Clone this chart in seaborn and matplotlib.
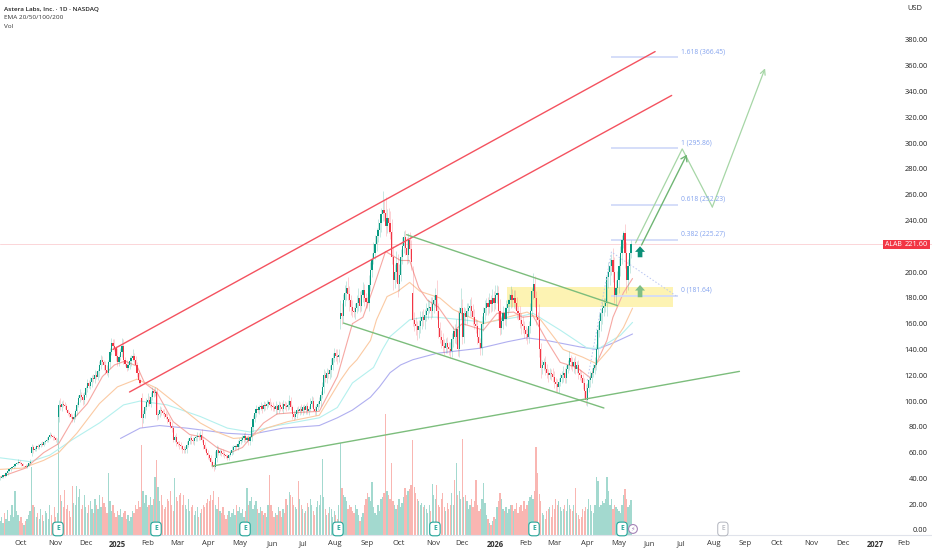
import numpy as np
import pandas as pd
import matplotlib.pyplot as plt
import seaborn as sns

# -----------------------------
# Chart values
# -----------------------------

closes = [
    40, 41, 43, 42, 44, 46, 47, 48, 49, 50,
    51, 52, 53, 52, 51, 50, 50, 49, 50, 52,
    53, 64, 62, 63, 65, 64, 66, 67, 66, 68,
    69, 70, 72, 74, 73, 72, 71, 70, 70, 97,
    95, 98, 97, 96, 93, 91, 90, 88, 86, 88,
    92, 97, 102, 105, 103, 101, 105, 110, 114, 112,
    115, 118, 117, 120, 119, 123, 128, 132, 130, 128,
    124, 122, 130, 138, 145, 143, 141, 135, 130, 134,
    138, 143, 132, 129, 126, 128, 131, 133, 135, 132,
    128, 122, 116, 114, 87, 90, 95, 99, 101, 98,
    103, 108, 106, 107, 89, 90, 93, 92, 91, 90,
    88, 86, 84, 81, 79, 70, 72, 68, 67, 66,
    65, 63, 62, 63, 66, 69, 71, 70, 69, 71,
    72, 73, 72, 74, 70, 66, 63, 60, 58, 56,
    53, 50, 49, 56, 62, 60, 61, 60, 59, 58,
    57, 56, 58, 60, 62, 64, 65, 64, 67, 69,
    70, 71, 73, 70, 71, 69, 72, 80, 86, 91,
    94, 93, 95, 96, 94, 97, 96, 98, 99, 97,
    96, 95, 94, 96, 93, 97, 95, 94, 98, 96,
    95, 97, 100, 95, 90, 88, 90, 93, 92, 94,
    92, 95, 93, 96, 92, 94, 98, 100, 94, 92,
    95, 98, 100, 105, 111, 120, 118, 122, 121, 124,
    128, 133, 137, 135, 134, 136, 168, 166, 178, 184,
    188, 183, 178, 173, 170, 169, 172, 176, 180, 174,
    182, 186, 180, 177, 176, 190, 202, 210, 215, 222,
    228, 233, 238, 245, 248, 246, 236, 242, 238, 231,
    212, 194, 200, 207, 191, 198, 212, 220, 227, 219,
    213, 225, 218, 208, 163, 160, 158, 155, 158, 162,
    165, 163, 167, 170, 172, 173, 170, 175, 178, 182,
    170, 157, 150, 147, 143, 141, 145, 142, 140, 139,
    148, 154, 150, 156, 140, 168, 172, 150, 168, 165,
    170, 172, 174, 170, 165, 160, 158, 150, 145, 141,
    160, 168, 172, 176, 173, 178, 175, 180, 176, 182,
    184, 170, 157, 162, 168, 164, 172, 175, 178, 182,
    178, 180, 176, 170, 168, 163, 160, 158, 155, 152,
    150, 158, 170, 185, 191, 180, 165, 163, 140, 126,
    128, 130, 125, 122, 120, 122, 121, 119, 115, 113,
    111, 115, 118, 120, 122, 118, 125, 128, 133, 130,
    127, 130, 125, 128, 122, 120, 118, 114, 108, 101,
    110, 116, 118, 122, 126, 128, 140, 155, 162, 168,
    172, 174, 176, 196, 200, 205, 209, 200, 182, 188,
    194, 205, 215, 225, 230, 215, 194, 205, 215, 221.6,
]

# opening price differs from the last close only on these gap days
gap_bars = [21, 39, 94, 226, 274]
gap_opens = [60, 88, 102, 164, 184]

upper_wicks = [
    1, 1, 0, 2, 1, 1, 1, 0, 1, 1,
    1, 1, 2, 1, 1, 1, 0, 1, 1, 1,
    2, 3, 2, 1, 1, 2, 1, 1, 2, 1,
    1, 2, 1, 2, 1, 1, 2, 1, 1, 4,
    5, 2, 3, 2, 2, 1, 1, 1, 2, 3,
    2, 2, 3, 4, 2, 3, 2, 2, 3, 2,
    4, 2, 3, 4, 3, 2, 3, 4, 3, 2,
    3, 4, 2, 3, 4, 3, 5, 2, 6, 2,
    3, 6, 5, 2, 3, 2, 4, 3, 5, 2,
    3, 2, 2, 2, 4, 3, 2, 3, 5, 3,
    4, 3, 2, 4, 3, 2, 3, 2, 2, 3,
    2, 3, 2, 2, 3, 2, 2, 3, 1, 2,
    2, 1, 2, 2, 3, 2, 2, 3, 2, 1,
    2, 3, 2, 3, 4, 2, 2, 1, 2, 1,
    2, 1, 3, 5, 4, 3, 2, 2, 3, 2,
    1, 2, 1, 2, 3, 2, 1, 2, 3, 2,
    2, 3, 2, 3, 2, 3, 2, 3, 3, 2,
    3, 2, 2, 3, 2, 3, 2, 3, 2, 3,
    2, 3, 2, 4, 2, 3, 2, 4, 3, 2,
    3, 4, 5, 3, 2, 3, 2, 2, 3, 2,
    4, 2, 3, 2, 3, 2, 4, 4, 3, 2,
    3, 2, 3, 3, 4, 5, 3, 4, 3, 4,
    5, 4, 4, 3, 5, 4, 10, 8, 5, 6,
    5, 8, 6, 4, 5, 3, 4, 6, 8, 5,
    4, 6, 5, 4, 4, 8, 6, 5, 8, 7,
    6, 8, 7, 5, 15, 9, 12, 7, 8, 9,
    10, 8, 6, 9, 7, 8, 6, 7, 5, 6,
    8, 5, 6, 7, 21, 6, 5, 4, 5, 8,
    5, 6, 4, 6, 7, 5, 8, 6, 4, 6,
    12, 6, 4, 5, 6, 5, 4, 5, 4, 6,
    5, 4, 6, 8, 14, 5, 16, 7, 5, 4,
    6, 4, 5, 7, 5, 6, 4, 5, 6, 4,
    6, 5, 6, 4, 5, 6, 4, 7, 5, 8,
    6, 5, 9, 4, 6, 5, 6, 4, 5, 7,
    5, 6, 6, 5, 4, 6, 5, 6, 4, 3,
    5, 4, 6, 3, 8, 6, 5, 4, 12, 5,
    4, 3, 5, 4, 3, 4, 3, 5, 4, 3,
    4, 3, 4, 3, 5, 4, 3, 4, 6, 3,
    4, 3, 5, 3, 4, 3, 4, 3, 4, 5,
    4, 3, 5, 4, 3, 6, 4, 5, 6, 3,
    5, 6, 4, 5, 8, 6, 5, 10, 12, 6,
    7, 6, 5, 4, 2, 7, 8, 5, 4, 3,
]

lower_wicks = [
    1, 0, 1, 1, 0, 1, 1, 1, 0, 1,
    1, 0, 1, 1, 1, 0, 1, 1, 1, 0,
    1, 3, 2, 1, 2, 1, 1, 2, 1, 1,
    1, 1, 2, 1, 1, 2, 1, 2, 3, 4,
    2, 3, 2, 2, 1, 2, 2, 1, 2, 2,
    2, 3, 2, 3, 2, 4, 3, 2, 3, 2,
    3, 4, 2, 3, 2, 3, 4, 3, 2, 4,
    3, 2, 3, 4, 2, 3, 2, 4, 3, 3,
    2, 4, 3, 2, 3, 2, 3, 4, 2, 3,
    4, 3, 3, 2, 7, 4, 3, 2, 3, 2,
    3, 2, 3, 2, 4, 3, 2, 3, 2, 3,
    2, 3, 2, 2, 3, 2, 2, 3, 2, 3,
    2, 3, 2, 2, 3, 2, 2, 3, 2, 3,
    2, 3, 2, 2, 2, 3, 2, 2, 3, 2,
    3, 2, 3, 2, 3, 2, 2, 3, 2, 2,
    1, 2, 2, 1, 2, 3, 2, 1, 2, 3,
    2, 2, 3, 2, 2, 3, 3, 3, 4, 2,
    3, 2, 3, 2, 3, 2, 3, 2, 3, 2,
    3, 3, 2, 4, 3, 2, 3, 2, 3, 2,
    3, 2, 3, 2, 4, 3, 2, 3, 2, 3,
    2, 3, 2, 3, 2, 3, 2, 3, 2, 3,
    3, 2, 3, 4, 3, 5, 3, 4, 3, 4,
    5, 4, 3, 4, 5, 4, 8, 6, 5, 4,
    6, 5, 8, 6, 5, 4, 5, 4, 6, 5,
    4, 5, 6, 5, 4, 6, 5, 6, 4, 5,
    6, 5, 6, 7, 5, 6, 8, 6, 8, 5,
    6, 8, 6, 8, 10, 6, 5, 6, 5, 6,
    7, 6, 8, 6, 5, 6, 7, 8, 6, 5,
    6, 5, 7, 5, 6, 4, 6, 5, 7, 5,
    6, 8, 5, 6, 5, 5, 4, 5, 4, 6,
    5, 6, 5, 6, 5, 6, 4, 6, 5, 6,
    5, 4, 6, 5, 6, 4, 5, 6, 4, 5,
    5, 6, 5, 5, 6, 5, 6, 5, 6, 5,
    6, 7, 6, 5, 6, 5, 6, 5, 5, 6,
    5, 6, 5, 6, 5, 6, 8, 5, 6, 5,
    6, 5, 5, 4, 6, 7, 6, 5, 6, 8,
    5, 4, 5, 4, 5, 3, 5, 4, 5, 6,
    4, 5, 3, 4, 5, 4, 4, 3, 4, 5,
    4, 5, 4, 3, 5, 4, 3, 5, 6, 4,
    5, 3, 5, 4, 3, 5, 4, 6, 5, 8,
    8, 6, 5, 10, 8, 10, 7, 8, 6, 8,
    5, 10, 8, 9, 6, 12, 10, 8, 6, 4,
]

volumes = [
    14, 18, 12, 22, 16, 25, 14, 20, 30, 18,
    44, 24, 20, 14, 18, 12, 10, 14, 16, 20,
    24, 68, 30, 28, 18, 22, 16, 26, 20, 14,
    24, 22, 16, 30, 20, 12, 28, 18, 22, 118,
    40, 34, 28, 45, 26, 30, 24, 18, 49, 32,
    30, 49, 38, 46, 26, 30, 40, 28, 22, 30,
    34, 26, 22, 36, 30, 26, 40, 28, 38, 32,
    28, 22, 62, 34, 24, 30, 22, 18, 24, 20,
    26, 18, 22, 24, 16, 20, 14, 18, 24, 22,
    30, 26, 34, 28, 90, 44, 32, 40, 28, 30,
    38, 30, 36, 58, 75, 48, 34, 40, 30, 26,
    28, 36, 34, 44, 30, 24, 57, 38, 34, 40,
    42, 30, 40, 30, 26, 36, 24, 28, 30, 20,
    24, 28, 18, 22, 26, 30, 28, 32, 36, 34,
    40, 35, 44, 30, 26, 38, 24, 22, 28, 20,
    16, 20, 24, 18, 22, 26, 20, 30, 24, 28,
    22, 26, 18, 24, 47, 30, 34, 38, 26, 30,
    34, 26, 22, 28, 24, 20, 22, 18, 30, 60,
    30, 24, 18, 22, 20, 28, 24, 18, 26, 22,
    36, 30, 43, 40, 38, 30, 28, 26, 54, 36,
    30, 26, 22, 24, 32, 28, 36, 30, 24, 20,
    28, 34, 30, 40, 76, 38, 26, 20, 22, 28,
    26, 18, 24, 20, 16, 30, 92, 47, 40, 38,
    34, 26, 30, 28, 24, 22, 30, 26, 20, 14,
    18, 22, 30, 36, 42, 38, 34, 53, 28, 22,
    20, 30, 24, 36, 38, 42, 121, 44, 40, 36,
    72, 34, 30, 26, 30, 36, 28, 32, 38, 47,
    40, 44, 46, 50, 95, 48, 42, 36, 34, 30,
    32, 28, 30, 26, 22, 30, 24, 51, 40, 36,
    50, 30, 28, 36, 42, 28, 24, 32, 26, 30,
    42, 30, 55, 72, 40, 44, 36, 96, 38, 40,
    34, 26, 30, 36, 28, 34, 55, 30, 24, 26,
    36, 52, 32, 20, 16, 12, 10, 14, 18, 16,
    28, 34, 42, 36, 26, 24, 28, 22, 26, 30,
    30, 24, 26, 32, 22, 28, 30, 24, 34, 26,
    30, 34, 38, 40, 36, 44, 88, 62, 41, 34,
    22, 20, 16, 24, 26, 28, 18, 30, 26, 36,
    30, 34, 28, 24, 26, 30, 24, 36, 30, 26,
    24, 30, 47, 22, 20, 16, 18, 26, 24, 28,
    26, 36, 30, 24, 22, 30, 58, 54, 28, 30,
    34, 32, 36, 58, 44, 30, 36, 26, 30, 28,
    26, 24, 22, 30, 40, 46, 36, 28, 30, 35,
]

ema20_bars = [0, 17, 29, 39, 48, 58, 68, 76, 83, 91, 96, 104, 115, 126, 135, 144, 153, 161, 166, 175,
              184, 195, 212, 224, 234, 241, 248, 256, 266, 272, 278, 284, 291, 297, 302, 307, 321,
              330, 341, 347, 354, 363, 372, 383, 392, 396, 403, 407, 414, 420]
ema20 = [41, 48, 60, 67, 85, 98, 119, 128, 131, 127, 114, 107, 84, 74, 72, 64, 60, 64, 71, 83,
         90, 91, 92, 119, 160, 165, 188, 216, 209, 209, 188, 178, 173, 163, 155, 160, 155,
         168, 169, 165, 166, 147, 130, 126, 118, 129, 147, 165, 184, 195]

ema50_bars = [0, 15, 29, 39, 51, 66, 78, 91, 104, 118, 133, 144, 155, 166, 177, 191, 212, 226, 232, 237, 246,
              250, 257, 264, 272, 279, 292, 301, 321, 337, 350, 359, 374, 387, 396, 405, 414, 420]
ema50 = [47, 48, 54, 60, 75, 98, 111, 117, 110, 97, 83, 76, 71, 72, 79, 84, 89, 116, 126, 132, 147,
         163, 181, 185, 192, 185, 180, 171, 160, 165, 169, 163, 140, 134, 129, 141, 157, 172]

ema100_bars = [0, 20, 33, 48, 66, 82, 93, 111, 133, 151, 166, 184, 212, 224, 234, 248, 254, 259, 266, 272,
               281, 290, 307, 323, 343, 354, 372, 390, 398, 412, 420]
ema100 = [56, 53, 58, 70, 83, 97, 100, 97, 88, 79, 76, 81, 87, 95, 114, 126, 140, 150, 157, 163,
          165, 165, 163, 161, 165, 168, 155, 141, 141, 151, 161]

ema200_bars = [80, 93, 106, 124, 151, 166, 188, 212, 224, 234, 246, 252, 259, 266, 274, 290, 319, 337,
               350, 363, 385, 396, 407, 420]
ema200 = [71, 79, 81, 79, 75, 74, 79, 81, 87, 93, 103, 111, 122, 128, 132, 137, 141, 146,
          149, 147, 142, 140, 145, 152]

price_ticks = [p for p in range(0, 381, 20) if p != 220]
month_bars = [14, 37, 57, 78, 98, 118, 138, 159, 181, 201, 222, 244, 265, 288, 307, 329, 349, 368, 390,
              411, 431, 452, 474, 495, 516, 539, 560, 581, 600]
month_labels = ["Oct", "Nov", "Dec", "2025", "Feb", "Mar", "Apr", "May", "Jun", "Jul", "Aug", "Sep", "Oct",
                "Nov", "Dec", "2026", "Feb", "Mar", "Apr", "May", "Jun", "Jul", "Aug", "Sep", "Oct",
                "Nov", "Dec", "2027", "Feb"]

fib_levels = ["1.618", "1", "0.618", "0.382", "0"]
fib_prices = [366.45, 295.86, 252.23, 225.27, 181.64]
earnings_bars = [38.5, 103.6, 162.7, 224.4, 288.8, 354.6, 413]

last_price = 221.60

# -----------------------------
# Build tables
# -----------------------------

opens = [closes[0]] + closes[:-1]
for bar, value in zip(gap_bars, gap_opens):
    opens[bar] = value

df = pd.DataFrame({"open": opens, "close": closes, "upper": upper_wicks, "lower": lower_wicks, "volume": volumes})
df["bar"] = np.arange(len(df))
df["up"] = df["close"] >= df["open"]
df["top"] = df[["open", "close"]].max(axis=1)
df["bottom"] = df[["open", "close"]].min(axis=1)

GREEN = "#089981"
RED = "#f23645"

sns.set_theme(style="white")
plt.rcParams["font.family"] = ["Open Sans", "DejaVu Sans"]

fig = plt.figure(figsize=(9.32, 5.5), dpi=100)
rect = [0, 15 / 550, 1, 535 / 550]
ax_vol = fig.add_axes(rect)
ax = fig.add_axes(rect)
ax.patch.set_alpha(0)

# -----------------------------
# Volume
# -----------------------------

sns.barplot(data=df, x="bar", y="volume", hue="up", palette={True: "#a3d9cf", False: "#f9b6b2"},
            native_scale=True, dodge=False, legend=False, width=0.85, saturation=1, linewidth=0, ax=ax_vol)
ax_vol.set_xlim(0, 932 / 1.506)
ax_vol.set_ylim(0, 535)
ax_vol.axis("off")

# -----------------------------
# Price pane
# -----------------------------

ax.set_xlim(0, 932 / 1.506)
ax.set_ylim(-3.88, 411)

ax.axhline(last_price, color="#fbd5d8", lw=0.7, zorder=1)
ax.axhspan(172.9, 188.4, xmin=336.6 / (932 / 1.506), xmax=447 / (932 / 1.506), color="#fdf3b3", lw=0, zorder=1)

for bars, values, color in [(ema200_bars, ema200, "#b0aff0"), (ema100_bars, ema100, "#b4f0ee"),
                            (ema50_bars, ema50, "#fbcaa3"), (ema20_bars, ema20, "#f6a8a3")]:
    sns.lineplot(x=bars, y=values, color=color, lw=0.8, estimator=None, sort=False, ax=ax, zorder=2)

# candles
for up, part in df.groupby("up"):
    color = GREEN if up else RED
    ax.vlines(part["bar"], part["bottom"] - part["lower"], part["top"] + part["upper"],
              color=color, lw=0.4, alpha=0.4, zorder=3)
    ax.bar(part["bar"], part["top"] - part["bottom"], bottom=part["bottom"], width=0.75, color=color, lw=0, zorder=4)

# trend lines
line_red = "#f4525f"
line_green = "#7cbd7c"
ax.plot([75, 435], [140, 371], color=line_red, lw=1.0, zorder=5)
ax.plot([86, 446], [107, 337], color=line_red, lw=1.0, zorder=5)
ax.plot([270, 410], [229, 174], color=line_green, lw=1.0, zorder=5)
ax.plot([228, 401], [160.5, 94.6], color=line_green, lw=1.0, zorder=5)
ax.plot([141, 491], [49.6, 123], color=line_green, lw=1.0, zorder=5)

# dotted fib base
ax.plot([390, 406, 449], [116, 215.6, 181.5], color="#b9c6f2", lw=0.7, ls=(0, (1.5, 2)), zorder=5)

# projected path
ax.plot([422, 453, 473], [222.6, 295.5, 250.5], color="#a6d6a6", lw=0.9, zorder=5)
ax.annotate("", xy=(508, 358), xytext=(473, 250.5), zorder=5,
            arrowprops=dict(arrowstyle="->,head_length=0.3,head_width=0.15", color="#a6d6a6", lw=0.9, shrinkA=0, shrinkB=0))
ax.annotate("", xy=(456, 291), xytext=(426, 221), zorder=5,
            arrowprops=dict(arrowstyle="->,head_length=0.3,head_width=0.2", color="#6fb674", lw=1.0, shrinkA=0, shrinkB=0))

# block arrows
ax.annotate("", xy=(425, 220), xytext=(425, 211.5), zorder=6,
            arrowprops=dict(arrowstyle="simple,head_length=0.5,head_width=0.9,tail_width=0.42", color="#0b8f77", lw=0, shrinkA=0, shrinkB=0, mutation_scale=8))
ax.annotate("", xy=(425, 190), xytext=(425, 180.5), zorder=6,
            arrowprops=dict(arrowstyle="simple,head_length=0.5,head_width=0.9,tail_width=0.42", color="#7fbf86", lw=0, shrinkA=0, shrinkB=0, mutation_scale=8))

# fib levels
for level, price in zip(fib_levels, fib_prices):
    ax.hlines(price, 406, 450, color="#d2dbf9", lw=1.3, zorder=2)
    ax.text(452, price + 4.5, f"{level} ({price:.2f})", color="#84a3ee", fontsize=4.9, va="center", ha="left", zorder=7)

# earnings and dividend style badges
for bar in earnings_bars:
    ax.text(bar, 0.8, "E", color="#26a69a", fontsize=4.8, fontweight="bold", ha="center", va="center", zorder=8,
            bbox=dict(boxstyle="round,pad=0.5", fc="white", ec="#26a69a", lw=0.8))
ax.text(480, 0.8, "E", color="#9a9ea8", fontsize=4.8, ha="center", va="center", zorder=8,
        bbox=dict(boxstyle="round,pad=0.5", fc="white", ec="#b2b5be", lw=0.7))
ax.text(420.3, 0.8, "\u26a1", color="#a584b8", fontsize=4.6, ha="center", va="center", zorder=8,
        bbox=dict(boxstyle="circle,pad=0.3", fc="white", ec="#a584b8", lw=0.8))

# -----------------------------
# Axes, labels
# -----------------------------

ax.yaxis.tick_right()
ax.set_yticks(price_ticks, [f"{p:.2f}" for p in price_ticks])
ax.tick_params(axis="y", length=0, pad=-3, labelsize=5.4, labelcolor="#222222")
for label in ax.get_yticklabels():
    label.set_ha("right")

ax.set_xticks(month_bars, month_labels)
ax.tick_params(axis="x", length=0, pad=3.5, labelsize=5.5, labelcolor="#333333")
for label in ax.get_xticklabels():
    if label.get_text().startswith("20"):
        label.set_fontweight("bold")

sns.despine(ax=ax, left=True, right=True, top=True)
ax.spines["bottom"].set_color("#e0e3eb")
ax.spines["bottom"].set_linewidth(0.8)
ax.set_xlabel("")
ax.set_ylabel("")
ax.grid(False)

# price tag
ax.bar(593, 7, bottom=last_price - 3.5, width=13.2, color=RED, lw=0, zorder=9)
ax.bar(608.7, 7, bottom=last_price - 3.5, width=17.8, color=RED, lw=0, zorder=9)
ax.text(593, last_price, "ALAB", color="white", fontsize=5.0, ha="center", va="center", zorder=10)
ax.text(608.7, last_price, f"{last_price:.2f}", color="white", fontsize=5.4, ha="center", va="center", zorder=10)

fig.text(4 / 932, 1 - 9 / 550, "Astera Labs, Inc. · 1D · NASDAQ", fontsize=4.6, fontweight="semibold", color="#222222", va="center")
fig.text(4 / 932, 1 - 17.5 / 550, "EMA 20/50/100/200", fontsize=4.6, color="#333333", va="center")
fig.text(4 / 932, 1 - 27 / 550, "Vol", fontsize=4.6, color="#333333", va="center")
fig.text(922 / 932, 1 - 8 / 550, "USD", fontsize=5.4, color="#222222", va="center", ha="right")

fig.savefig("out.png", dpi=100)
plt.close()
